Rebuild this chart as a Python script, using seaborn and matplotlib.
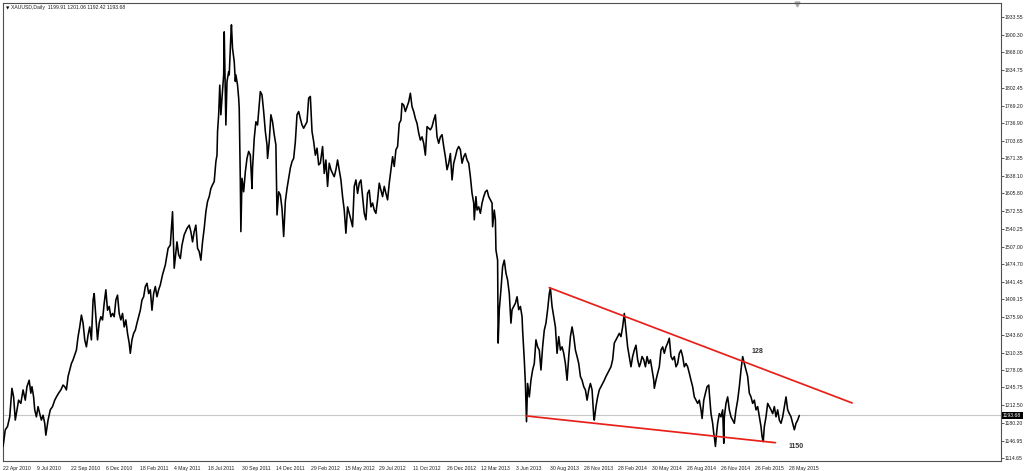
import numpy as np
import pandas as pd
import matplotlib
matplotlib.use("Agg")
import matplotlib.pyplot as plt
import matplotlib.transforms as mtransforms
import seaborn as sns

# ---------------- data (bar index, price) ----------------
bars_2010 = [0, 4, 8, 12, 16, 19, 22, 25, 28, 32, 36, 40, 43, 47, 50, 52, 55, 57, 60, 63, 66, 69, 72, 75, 77,
             81, 85, 89, 93, 96, 100, 104, 108, 111, 114, 117, 120, 123, 126, 129, 132, 135, 138, 141, 144,
             147, 150, 153, 156, 159, 162, 164, 167, 170, 173, 176, 179, 182, 185, 188, 191, 194, 197, 200,
             203, 206, 209, 212, 215, 218, 221, 224, 227, 229, 232, 235, 238, 241, 244, 247, 250, 253, 256,
             259, 262, 265, 268, 271, 274, 277, 280]
price_2010 = [1136, 1167, 1173, 1191, 1244, 1228, 1185, 1204, 1222, 1216, 1241, 1222, 1247, 1259, 1235, 1247,
              1228, 1204, 1191, 1210, 1197, 1185, 1194, 1179, 1157, 1185, 1204, 1210, 1222, 1228, 1235, 1241,
              1250, 1247, 1241, 1266, 1278, 1290, 1297, 1306, 1315, 1340, 1358, 1380, 1365, 1334, 1321, 1343,
              1358, 1334, 1408, 1420, 1377, 1334, 1365, 1377, 1371, 1402, 1427, 1389, 1396, 1377, 1383, 1377,
              1408, 1417, 1383, 1371, 1383, 1358, 1371, 1346, 1328, 1309, 1334, 1346, 1352, 1365, 1377, 1389,
              1408, 1414, 1433, 1439, 1420, 1427, 1389, 1420, 1433, 1414, 1427]

bars_2011 = [283, 287, 292, 297, 301, 305, 308, 313, 316, 319, 322, 326, 331, 335, 338, 341, 344, 347, 350,
             353, 356, 359, 362, 365, 368, 371, 374, 377, 380, 383, 385, 386, 388, 390, 392, 394, 397, 398,
             401, 403, 406, 407, 410, 411, 413, 416, 418, 419, 422, 424, 425, 427, 428, 430, 433, 436, 439,
             442, 445, 448, 449, 452, 455, 458, 460, 463, 466, 469, 472, 475, 476, 479, 482, 485, 488, 491,
             493, 496, 499, 502, 505, 508, 511, 514, 517, 520, 523, 526, 529, 532, 535, 538, 541, 544, 547,
             550, 553, 556, 559, 562, 565, 568]
price_2011 = [1436, 1455, 1473, 1504, 1510, 1572, 1467, 1516, 1492, 1485, 1510, 1529, 1541, 1547, 1535, 1516,
              1535, 1547, 1504, 1498, 1482, 1516, 1541, 1572, 1591, 1600, 1615, 1622, 1628, 1665, 1677, 1721,
              1752, 1807, 1752, 1783, 1826, 1906, 1733, 1814, 1832, 1826, 1900, 1919, 1875, 1851, 1814, 1826,
              1807, 1783, 1764, 1628, 1535, 1634, 1609, 1646, 1671, 1684, 1677, 1615, 1653, 1708, 1739, 1733,
              1758, 1795, 1789, 1758, 1721, 1696, 1671, 1702, 1752, 1739, 1715, 1696, 1566, 1609, 1603, 1578,
              1526, 1591, 1615, 1634, 1653, 1665, 1671, 1702, 1752, 1758, 1745, 1733, 1727, 1733, 1739, 1783,
              1786, 1721, 1702, 1677, 1690, 1659]

bars_2012 = [571, 575, 578, 581, 584, 587, 590, 593, 596, 599, 602, 605, 608, 611, 614, 617, 620, 623, 626,
             629, 632, 635, 638, 641, 644, 647, 650, 653, 656, 659, 662, 665, 668, 671, 674, 677, 680, 683,
             686, 689, 692, 695, 698, 701, 704, 707, 710, 713, 716, 718, 721, 724, 727, 730, 733, 736, 739,
             742, 745, 748, 751, 754, 757, 760, 763, 766, 769, 772, 775, 778, 781, 784, 787, 790, 793, 796,
             799, 802, 805, 808, 811, 814, 817, 820, 823, 826, 829, 832, 835, 838, 841, 844, 847, 848, 851,
             853, 856]
price_2012 = [1662, 1693, 1643, 1668, 1619, 1662, 1650, 1643, 1637, 1650, 1668, 1650, 1631, 1600, 1575, 1532,
              1581, 1569, 1557, 1544, 1619, 1631, 1606, 1625, 1631, 1600, 1569, 1557, 1606, 1612, 1581, 1588,
              1575, 1569, 1594, 1625, 1612, 1600, 1619, 1606, 1594, 1625, 1650, 1674, 1656, 1687, 1693, 1736,
              1742, 1773, 1770, 1758, 1767, 1776, 1792, 1767, 1758, 1745, 1736, 1718, 1705, 1711, 1699, 1677,
              1730, 1727, 1724, 1730, 1742, 1752, 1711, 1699, 1711, 1715, 1693, 1674, 1650, 1662, 1680, 1631,
              1662, 1674, 1687, 1693, 1687, 1662, 1674, 1680, 1668, 1662, 1637, 1606, 1588, 1557, 1600, 1575,
              1581]

bars_2013 = [859, 862, 865, 868, 871, 874, 877, 880, 881, 884, 886, 887, 890, 891, 893, 896, 899, 902, 905,
             908, 911, 914, 916, 919, 922, 925, 928, 931, 934, 935, 938, 940, 942, 944, 947, 950, 953, 956,
             959, 962, 965, 968, 971, 974, 977, 980, 983, 985, 988, 991, 994, 997, 1000, 1003, 1006, 1009,
             1012, 1015, 1018, 1021, 1024, 1027, 1030, 1033, 1036, 1039, 1042, 1045, 1048, 1051, 1054, 1057,
             1060, 1063, 1064, 1067, 1070, 1073, 1076, 1079, 1082, 1085, 1088, 1091, 1094, 1097, 1100, 1103,
             1106, 1109, 1112, 1115, 1118, 1121, 1124, 1127, 1130, 1133, 1136, 1139, 1142, 1145]
price_2013 = [1569, 1588, 1600, 1609, 1612, 1600, 1594, 1588, 1544, 1575, 1557, 1501, 1482, 1328, 1390, 1427,
              1470, 1482, 1458, 1445, 1420, 1365, 1390, 1396, 1402, 1414, 1390, 1396, 1377, 1352, 1297, 1253,
              1182, 1253, 1228, 1259, 1278, 1290, 1334, 1321, 1315, 1278, 1321, 1352, 1365, 1390, 1420, 1430,
              1396, 1377, 1358, 1309, 1340, 1315, 1321, 1309, 1290, 1259, 1303, 1340, 1358, 1340, 1315, 1303,
              1290, 1266, 1259, 1247, 1241, 1222, 1241, 1253, 1241, 1191, 1185, 1210, 1228, 1241, 1247, 1253,
              1259, 1266, 1272, 1278, 1284, 1297, 1328, 1334, 1340, 1346, 1340, 1358, 1383, 1352, 1321, 1303,
              1284, 1303, 1315, 1324, 1297, 1284]

bars_2014 = [1147, 1150, 1153, 1156, 1159, 1162, 1165, 1168, 1171, 1172, 1175, 1178, 1181, 1184, 1187, 1190,
             1193, 1196, 1199, 1202, 1205, 1208, 1211, 1214, 1217, 1220, 1223, 1226, 1229, 1232, 1235, 1238,
             1241, 1244, 1247, 1250, 1253, 1256, 1258, 1261, 1264, 1267, 1270, 1271, 1274, 1277, 1279, 1280,
             1282, 1284, 1286, 1289, 1292, 1295, 1297, 1298, 1301, 1304, 1307, 1310, 1313, 1316, 1319, 1322,
             1325, 1328, 1331, 1334, 1337, 1340, 1343, 1346, 1349, 1352, 1355, 1358, 1361, 1364, 1366, 1368,
             1370, 1373, 1376, 1379, 1382, 1385, 1388, 1391, 1394, 1397, 1400, 1403, 1406, 1409, 1412, 1415,
             1418, 1421, 1424, 1427, 1430, 1433]
price_2014 = [1290, 1303, 1297, 1284, 1303, 1290, 1297, 1278, 1259, 1244, 1259, 1272, 1284, 1315, 1321, 1309,
              1321, 1328, 1337, 1303, 1297, 1303, 1284, 1290, 1309, 1315, 1303, 1284, 1290, 1284, 1272, 1259,
              1247, 1228, 1222, 1216, 1222, 1204, 1188, 1222, 1235, 1247, 1250, 1235, 1197, 1179, 1160, 1154,
              1136, 1160, 1179, 1197, 1191, 1204, 1142, 1191, 1216, 1228, 1204, 1191, 1185, 1179, 1204, 1222,
              1247, 1278, 1303, 1290, 1278, 1266, 1235, 1228, 1216, 1222, 1204, 1210, 1191, 1173, 1154, 1145,
              1173, 1191, 1216, 1210, 1204, 1197, 1210, 1191, 1204, 1185, 1179, 1191, 1210, 1228, 1204, 1197,
              1191, 1179, 1167, 1179, 1185, 1193.68]

# trend lines (bar, price) and annotations
upper_line_bars = [983, 1528]
upper_line_price = [1430.9, 1216.8]
lower_line_bars = [942, 1390]
lower_line_price = [1192.6, 1143.0]
annotations = [("128", 1358, 1312.0), ("1150", 1427, 1135.6)]

last_price = 1193.68
title_text = "XAUUSD,Daily  1199.91 1201.06 1192.42 1193.68"

y_ticks = [1933.55, 1900.30, 1868.00, 1834.75, 1802.45, 1769.20, 1736.90, 1703.65, 1671.35, 1638.10,
           1605.80, 1572.55, 1540.25, 1507.00, 1474.70, 1441.45, 1409.15, 1375.90, 1343.60, 1310.35,
           1278.05, 1245.75, 1212.50, 1180.20, 1146.95, 1114.65]
date_labels = ["22 Apr 2010", "9 Jul 2010", "22 Sep 2010", "6 Dec 2010", "18 Feb 2011", "4 May 2011",
               "18 Jul 2011", "30 Sep 2011", "14 Dec 2011", "29 Feb 2012", "15 May 2012", "29 Jul 2012",
               "11 Oct 2012", "26 Dec 2012", "12 Mar 2013", "3 Jun 2013", "30 Aug 2013", "28 Nov 2013",
               "28 Feb 2014", "30 May 2014", "28 Aug 2014", "26 Nov 2014", "26 Feb 2015", "28 May 2015"]
label_step_bars = 61.5

# ---------------- figure ----------------
sns.set_style("white")
plt.rcParams['font.family'] = ['Liberation Sans', 'DejaVu Sans']

df = pd.DataFrame({
    "bar": bars_2010 + bars_2011 + bars_2012 + bars_2013 + bars_2014,
    "price": price_2010 + price_2011 + price_2012 + price_2013 + price_2014,
})

fig = plt.figure(figsize=(10.24, 4.71), dpi=100)
ax = fig.add_axes([2.5 / 1024, 1 - 461 / 471, 998 / 1024, 458.5 / 471])

ax.axhline(last_price, color="#c8c8c8", lw=0.8, zorder=1)
sns.lineplot(data=df, x="bar", y="price", ax=ax, color="black", linewidth=1.15,
             estimator=None, sort=False, zorder=3)

ax.plot(upper_line_bars, upper_line_price, color="#e8201a", lw=1.25, zorder=4)
ax.plot(lower_line_bars, lower_line_price, color="#e8201a", lw=1.25, zorder=4)
for txt, bx, py in annotations:
    ax.text(bx, py, txt, fontsize=5, fontweight="bold", color="#333333",
            ha="center", va="center", zorder=5)

ax.set_xlim(-1, 1795)
ax.set_ylim(1109.0, 1960.5)
ax.set_xlabel("")
ax.set_ylabel("")

ax.yaxis.tick_right()
ax.set_yticks(y_ticks)
ax.set_yticklabels([f"{v:.2f}" for v in y_ticks])
ax.set_xticks(np.arange(len(date_labels)) * label_step_bars)
ax.set_xticklabels(date_labels, ha="left")
ax.tick_params(axis="both", labelsize=3.7, length=2, width=0.6, direction="out",
               color="#404040", labelcolor="#202020", pad=1.2)
ax.tick_params(axis="x", pad=1.5)
for sp in ax.spines.values():
    sp.set_color("#505050")
    sp.set_linewidth(0.8)
ax.grid(False)

trans = mtransforms.blended_transform_factory(ax.transAxes, ax.transData)
ax.text(1.0025, last_price, f"{last_price:.2f}", transform=trans, fontsize=3.7, color="white",
        ha="left", va="center", zorder=6,
        bbox=dict(facecolor="black", edgecolor="none", boxstyle="square,pad=0.25"))

trans2 = mtransforms.blended_transform_factory(ax.transData, ax.transAxes)
ax.plot([1429], [0.996], marker="v", color="#a8a8a8", markersize=3.5, transform=trans2, clip_on=False)

fig.text(6 / 1024, 1 - 8 / 471, "\u25BC", fontsize=3.2, color="black", va="center",
         family=["DejaVu Sans"])
fig.text(11 / 1024, 1 - 8 / 471, title_text, fontsize=3.7, color="#202020", va="center")

fig.savefig("out.png", dpi=100, facecolor="white")
